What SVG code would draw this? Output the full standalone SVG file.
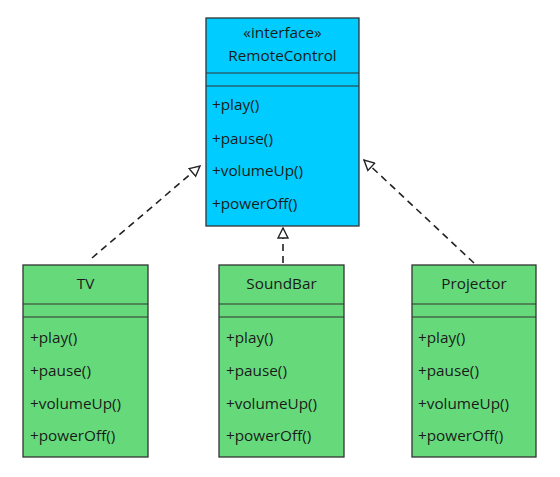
<svg xmlns="http://www.w3.org/2000/svg" width="560" height="477" viewBox="0 0 560 477">
<defs>
<style>
.box{stroke:#333;stroke-width:1.3}
.iface{fill:#00CCFF}
.cls{fill:#66DA7A}
.sep{stroke:#333;stroke-width:1}
text{font-family:"Open Sans","Lato","Liberation Sans",sans-serif;font-size:15.3px;fill:#1a1a1a}
.c{text-anchor:middle}
.conn{fill:none;stroke:#222;stroke-width:1.6;stroke-dasharray:7,5}
</style>
<marker id="tri" viewBox="0 0 12 12" refX="11" refY="6" markerWidth="12" markerHeight="12" markerUnits="userSpaceOnUse" orient="auto">
<path d="M1,1 L11,6 L1,11 Z" fill="#fff" stroke="#222" stroke-width="1.4" stroke-dasharray="none"/>
</marker>
</defs>
<rect width="560" height="477" fill="#fff"/>
<g id="connectors">
<line class="conn" x1="92" y1="258" x2="200" y2="166" marker-end="url(#tri)"/>
<line class="conn" x1="283" y1="263" x2="283" y2="228" marker-end="url(#tri)"/>
<line class="conn" x1="474" y1="263" x2="364" y2="160" marker-end="url(#tri)"/>
</g>
<g id="RemoteControl">
<rect class="box iface" x="206" y="18" width="153" height="208"/>
<line class="sep" x1="206" y1="73" x2="359" y2="73"/>
<line class="sep" x1="206" y1="86" x2="359" y2="86"/>
<text class="c" x="282.5" y="38">«interface»</text>
<text class="c" x="282.5" y="61">RemoteControl</text>
<text x="212" y="110">+play()</text>
<text x="212" y="144">+pause()</text>
<text x="212" y="176">+volumeUp()</text>
<text x="212" y="209">+powerOff()</text>
</g>
<g id="TV">
<rect class="box cls" x="23" y="265" width="125" height="192"/>
<line class="sep" x1="23" y1="304" x2="148" y2="304"/>
<line class="sep" x1="23" y1="317" x2="148" y2="317"/>
<text class="c" x="85.5" y="289">TV</text>
<text x="30" y="343">+play()</text>
<text x="30" y="376">+pause()</text>
<text x="30" y="409">+volumeUp()</text>
<text x="30" y="441">+powerOff()</text>
</g>
<g id="SoundBar">
<rect class="box cls" x="219" y="265" width="125" height="192"/>
<line class="sep" x1="219" y1="304" x2="344" y2="304"/>
<line class="sep" x1="219" y1="317" x2="344" y2="317"/>
<text class="c" x="281.5" y="289">SoundBar</text>
<text x="226" y="343">+play()</text>
<text x="226" y="376">+pause()</text>
<text x="226" y="409">+volumeUp()</text>
<text x="226" y="441">+powerOff()</text>
</g>
<g id="Projector">
<rect class="box cls" x="412" y="265" width="124" height="192"/>
<line class="sep" x1="412" y1="304" x2="536" y2="304"/>
<line class="sep" x1="412" y1="317" x2="536" y2="317"/>
<text class="c" x="474" y="289">Projector</text>
<text x="418" y="343">+play()</text>
<text x="418" y="376">+pause()</text>
<text x="418" y="409">+volumeUp()</text>
<text x="418" y="441">+powerOff()</text>
</g>
</svg>
